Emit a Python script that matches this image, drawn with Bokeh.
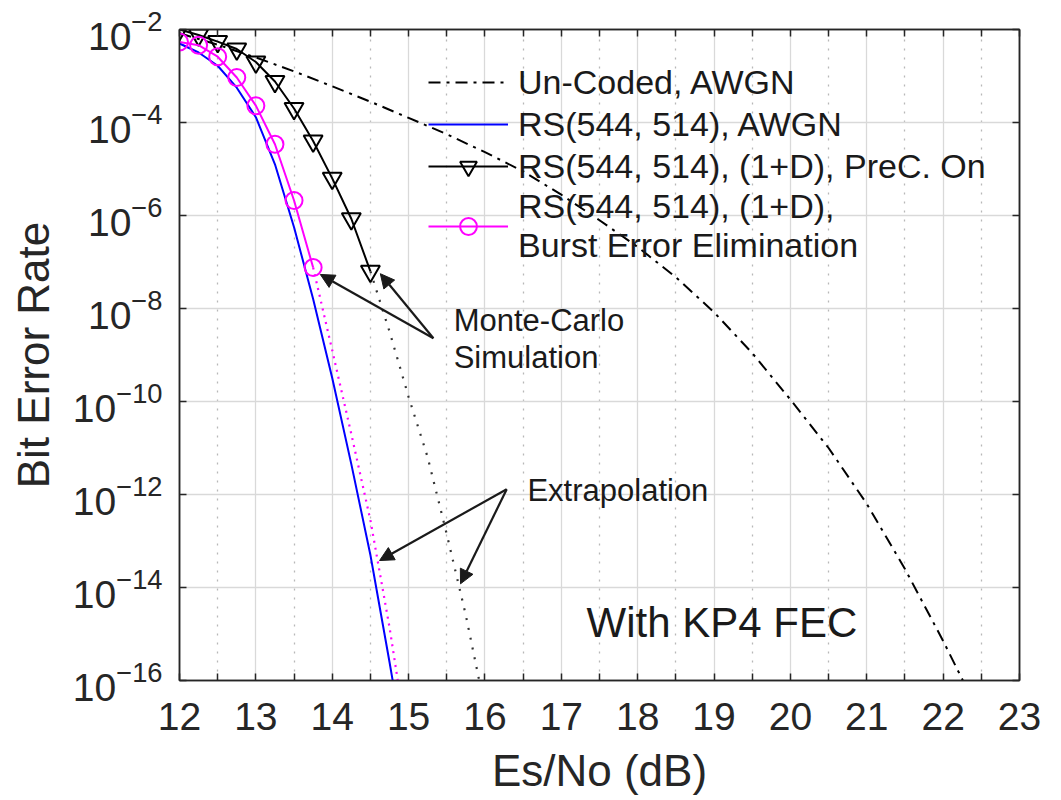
from bokeh.plotting import figure
from bokeh.models import (Range1d, FixedTicker, LinearAxis, LogAxis, Legend, LegendItem,
                          Label, Arrow, NormalHead)
from bokeh.embed import file_html
from bokeh.resources import INLINE

# ---------------- data ----------------
x_ticks = [12, 13, 14, 15, 16, 17, 18, 19, 20, 21, 22, 23]
x_minor = [12.5, 13.5, 14.5, 15.5, 16.5, 17.5, 18.5, 19.5, 20.5, 21.5, 22.5]
y_ticks = [1e-16, 1e-14, 1e-12, 1e-10, 1e-8, 1e-6, 1e-4, 1e-2]

uncoded_x = [12.0, 12.5, 13.0, 13.5, 14.0, 14.5, 15.0, 15.5, 16.0, 16.5, 17.0,
             17.5, 18.0, 18.5, 19.0, 19.5, 20.0, 20.5, 21.0, 21.5, 22.0, 22.5]
uncoded_y = [8.3e-3, 4.7e-3, 2.5e-3, 1.26e-3, 6.0e-4, 2.8e-4, 1.26e-4, 5.6e-5, 2.3e-5,
             8.9e-6, 2.8e-6, 7.9e-7, 2.1e-7, 4.7e-8, 8.3e-9, 1.1e-9, 1.1e-10,
             1.0e-11, 6.3e-13, 2.5e-14, 7.1e-16, 1.6e-17]

rs_awgn_x = [12.0, 12.25, 12.5, 12.75, 13.0, 13.25, 13.5, 13.75, 14.0, 14.25,
             14.5, 14.75, 15.0]
rs_awgn_y = [5.0e-3, 3.2e-3, 1.66e-3, 5.6e-4, 1.3e-4, 1.26e-5, 5.6e-7, 1.6e-8,
             3.2e-10, 4.5e-12, 5.0e-14, 2.5e-16, 1.0e-18]

prec_x = [12.0, 12.25, 12.5, 12.75, 13.0, 13.25, 13.5, 13.75, 14.0, 14.25, 14.5]
prec_y = [1.0e-2, 7.6e-3, 5.5e-3, 3.8e-3, 2.0e-3, 7.6e-4, 2.0e-4, 4.0e-5, 6.3e-6,
          8.5e-7, 6.3e-8]
prec_ext_x = [14.5, 14.75, 15.0, 15.25, 15.5, 15.75, 16.0]
prec_ext_y = [6.3e-8, 3.2e-9, 1.26e-10, 6.3e-12, 1.4e-13, 2.5e-15, 2.5e-17]

burst_x = [12.0, 12.25, 12.5, 12.75, 13.0, 13.25, 13.5, 13.75]
burst_y = [5.4e-3, 4.6e-3, 2.6e-3, 9.3e-4, 2.3e-4, 3.4e-5, 2.1e-6, 7.6e-8]
burst_ext_x = [13.75, 14.0, 14.25, 14.5, 14.75, 15.0]
burst_ext_y = [7.6e-8, 1.26e-9, 2.0e-11, 2.8e-13, 1.4e-15, 3.2e-18]

legend_labels = ["Un-Coded, AWGN", "RS(544, 514), AWGN",
                 "RS(544, 514), (1+D), PreC. On",
                 "RS(544, 514), (1+D),\nBurst Error Elimination"]

# ---------------- styling ----------------
FONT = "Liberation Sans"
AX = "#262626"
TXT = "#1a1a1a"
MAGENTA = "#ff00ff"
BLUE = "#0000ff"

p = figure(width=1061, height=800, x_range=Range1d(12, 23), y_range=Range1d(1e-16, 1e-2),
           y_axis_type="log", output_backend="svg", toolbar_location=None)
p.min_border_left = 179
p.min_border_right = 42
p.min_border_top = 29
p.min_border_bottom = 120
p.outline_line_color = AX
p.outline_line_width = 1.5
p.background_fill_color = "white"
p.border_fill_color = "white"

xticker = FixedTicker(ticks=x_ticks, minor_ticks=x_minor)
yticker = FixedTicker(ticks=y_ticks)

p.xaxis.ticker = xticker
p.yaxis.ticker = yticker
p.xgrid.ticker = xticker
p.ygrid.ticker = yticker

for g in (p.xgrid, p.ygrid):
    g.grid_line_color = "#d9d9d9"
    g.grid_line_width = 1.3
p.xgrid.minor_grid_line_color = "#b8b8b8"
p.xgrid.minor_grid_line_dash = "2 7"
p.xgrid.minor_grid_line_width = 1.3


def style_axis(ax, labels=True):
    ax.axis_line_color = AX
    ax.axis_line_width = 1.5
    ax.major_tick_line_color = AX
    ax.minor_tick_line_color = AX
    ax.major_tick_line_width = 1.5
    ax.minor_tick_line_width = 1.5
    ax.major_tick_in = 7
    ax.major_tick_out = 0
    ax.minor_tick_in = 7
    ax.minor_tick_out = 0
    ax.major_label_text_font = FONT
    ax.major_label_text_color = AX
    ax.axis_label_text_font = FONT
    ax.axis_label_text_font_style = "normal"
    ax.axis_label_text_color = AX
    if not labels:
        ax.major_label_text_font_size = "2px"
        ax.major_label_text_alpha = 0
        ax.major_label_standoff = 0


style_axis(p.xaxis[0])
style_axis(p.yaxis[0])
p.xaxis.major_label_text_font_size = "39px"
p.yaxis.major_label_text_font_size = "39px"
p.xaxis.major_label_standoff = 22
p.yaxis.major_label_standoff = 17
p.xaxis.axis_label = "Es/No (dB)"
p.yaxis.axis_label = "Bit Error Rate"
p.xaxis.axis_label_text_font_size = "44px"
p.yaxis.axis_label_text_font_size = "44px"
p.xaxis.axis_label_standoff = 13
p.yaxis.axis_label_standoff = 12

top_ax = LinearAxis(ticker=xticker)
style_axis(top_ax, labels=False)
p.add_layout(top_ax, "above")
right_ax = LogAxis(ticker=yticker)
style_axis(right_ax, labels=False)
p.add_layout(right_ax, "right")

# ---------------- curves ----------------
r_unc = p.line(uncoded_x, uncoded_y, line_color="black", line_width=2, line_dash="12 6 3 6")
r_rs = p.line(rs_awgn_x, rs_awgn_y, line_color=BLUE, line_width=2)
p.line(prec_ext_x, prec_ext_y, line_color="#333333", line_width=2.2, line_dash="2 8")
p.line(burst_ext_x, burst_ext_y, line_color=MAGENTA, line_width=2.2, line_dash="2 5")
r_prec = p.line(prec_x, prec_y, line_color="black", line_width=2)
r_prec_m = p.scatter(prec_x, prec_y, marker="inverted_triangle", size=19, line_color="black",
                     line_width=2, fill_alpha=0)
r_burst = p.line(burst_x, burst_y, line_color=MAGENTA, line_width=2)
r_burst_m = p.scatter(burst_x, burst_y, marker="circle", size=17, line_color=MAGENTA,
                      line_width=2, fill_alpha=0)

legend = Legend(items=[
    LegendItem(label=legend_labels[0], renderers=[r_unc]),
    LegendItem(label=legend_labels[1], renderers=[r_rs]),
    LegendItem(label=legend_labels[2], renderers=[r_prec, r_prec_m]),
    LegendItem(label=legend_labels[3], renderers=[r_burst, r_burst_m]),
], location=(249, 415))
legend.border_line_color = None
legend.background_fill_alpha = 0
legend.padding = 0
legend.margin = 0
legend.spacing = 0
legend.glyph_width = 80
legend.glyph_height = 42
legend.label_height = 42
legend.label_standoff = 10
legend.label_text_font = FONT
legend.label_text_font_size = "34px"
legend.label_text_color = TXT
p.add_layout(legend)

# ---------------- annotations ----------------
head = dict(size=14, fill_color=TXT, line_color=TXT)
mc_apex = (15.325, 2.3e-9)
mc_tips = [(13.844, 5.4e-8), (14.63, 5.6e-8)]
ex_apex = (16.285, 1.3e-12)
ex_tips = [(14.62, 3.8e-14), (15.68, 1.2e-14)]
for apex, tips in ((mc_apex, mc_tips), (ex_apex, ex_tips)):
    for tx, ty in tips:
        p.add_layout(Arrow(end=NormalHead(**head), x_start=apex[0], y_start=apex[1],
                           x_end=tx, y_end=ty, line_color=TXT, line_width=2.2))

notes = [("Monte-Carlo", 15.59, 5.5e-9, "31px"),
         ("Simulation", 15.59, 8.7e-10, "31px"),
         ("Extrapolation", 16.556, 1.19e-12, "31px"),
         ("With KP4 FEC", 17.33, 1.74e-15, "42px")]
for txt, x, y, fs in notes:
    p.add_layout(Label(x=x, y=y, text=txt, text_font=FONT, text_font_size=fs,
                       text_color=TXT, text_baseline="middle", text_align="left"))

open("out.html", "w").write(file_html(p, INLINE))
